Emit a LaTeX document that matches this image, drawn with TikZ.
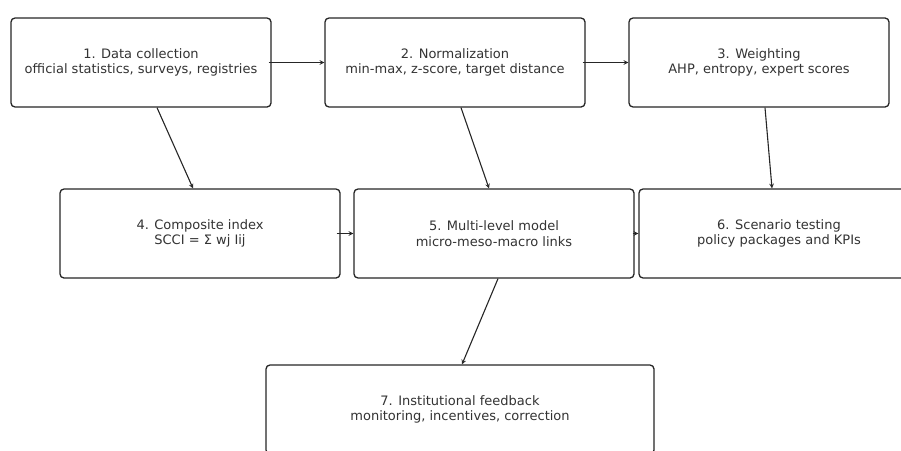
\documentclass[tikz,border=0pt]{standalone}
\usepackage{fontspec}
\setmainfont{DejaVu Sans}
\usepackage{tikz}
\usetikzlibrary{arrows,calc,positioning}

\tikzset{
stage/.style={draw=black!85, line width=1.3pt, rounded corners=4pt, fill=white,
  minimum height=89pt, inner sep=0pt, align=center, text=black!80,
  font=\fontsize{13}{15.5}\selectfont},
link/.style={->, >=stealth, line width=1.1pt, black!85}
}

\begin{document}
\begin{tikzpicture}[x=1pt,y=-1pt]
\useasboundingbox (0,0) rectangle (901,450);
\clip (0,0) rectangle (901,450);

\node[stage, minimum width=260pt] (b1) at (141,62.5) {1. Data collection\\official statistics, surveys, registries};
\node[stage, minimum width=260pt] (b2) at (455,62.5) {2. Normalization\\min-max, z-score, target distance};
\node[stage, minimum width=260pt] (b3) at (759,62.5) {3. Weighting\\AHP, entropy, expert scores};

\node[stage, minimum width=280pt] (b4) at (200,233.5) {4. Composite index\\SCCI = Σ wj Iij};
\node[stage, minimum width=280pt] (b5) at (494,233.5) {5. Multi-level model\\micro-meso-macro links};
\node[stage, minimum width=280pt] (b6) at (779,233.5) {6. Scenario testing\\policy packages and KPIs};

\node[stage, minimum width=388pt] (b7) at (460,409.5) {7. Institutional feedback\\monitoring, incentives, correction};

\draw[link] ([xshift=-3pt]b1.east) -- (b2.west);
\draw[link] ([xshift=-3pt]b2.east) -- (b3.west);
\draw[link] ([xshift=16pt]b1.south) -- ([xshift=-7pt]b4.north);
\draw[link] ([xshift=6pt]b2.south) -- ([xshift=-5pt]b5.north);
\draw[link] ([xshift=6pt]b3.south) -- ([xshift=-7pt]b6.north);
\draw[link] ([xshift=-4pt]b4.east) -- (b5.west);
\draw[link] ([xshift=-2pt]b5.east) -- (b6.west);
\draw[link] ([xshift=4pt]b5.south) -- ([xshift=2pt]b7.north);

\end{tikzpicture}
\end{document}
